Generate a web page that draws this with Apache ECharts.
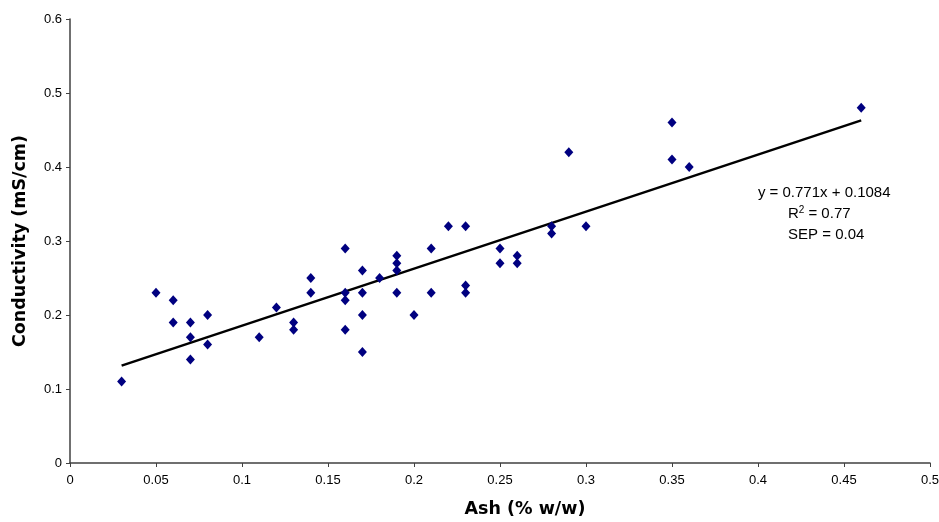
<!DOCTYPE html>
<html>
<head>
<meta charset="utf-8">
<script src="https://cdn.jsdelivr.net/npm/echarts@6/dist/echarts.min.js"></script>
<style>
html,body{margin:0;padding:0;background:#fff;}
#chart{width:939px;height:522px;}
</style>
</head>
<body>
<div id="chart"></div>
<script>
// Ash (% w/w) values
var ashValues = [
  0.03, 0.05, 0.06, 0.06, 0.07, 0.07, 0.07, 0.08, 0.08, 0.11,
  0.12, 0.13, 0.13, 0.14, 0.14, 0.16, 0.16, 0.16, 0.16, 0.17,
  0.17, 0.17, 0.17, 0.18, 0.19, 0.19, 0.19, 0.19, 0.20, 0.21,
  0.21, 0.22, 0.23, 0.23, 0.23, 0.25, 0.25, 0.26, 0.26, 0.28,
  0.28, 0.29, 0.30, 0.35, 0.35, 0.36, 0.46
];
// Conductivity (mS/cm) values
var conductivityValues = [
  0.11, 0.23, 0.22, 0.19, 0.19, 0.17, 0.14, 0.20, 0.16, 0.17,
  0.21, 0.19, 0.18, 0.25, 0.23, 0.29, 0.23, 0.22, 0.18, 0.26,
  0.23, 0.20, 0.15, 0.25, 0.28, 0.27, 0.26, 0.23, 0.20, 0.29,
  0.23, 0.32, 0.32, 0.24, 0.23, 0.29, 0.27, 0.28, 0.27, 0.32,
  0.31, 0.42, 0.32, 0.46, 0.41, 0.40, 0.48
];
// Regression line
var slope = 0.771;
var intercept = 0.1084;
var fitXRange = [0.03, 0.46];
var annotationLines = ['y = 0.771x + 0.1084', 'R2 = 0.77', 'SEP = 0.04'];

var points = ashValues.map(function (x, i) { return [x, conductivityValues[i]]; });
var fitLine = fitXRange.map(function (x) { return [x, slope * x + intercept]; });

var chart = echarts.init(document.getElementById('chart'));
var font = '"Liberation Sans", Arial, sans-serif';
var titleFont = '"DejaVu Sans", sans-serif';
var axisColor = '#404040';
chart.setOption({
  animation: false,
  backgroundColor: '#fff',
  grid: { left: 70, right: 9, top: 19, bottom: 59, containLabel: false, outerBoundsMode: 'none' },
  xAxis: {
    type: 'value', min: 0, max: 0.5, interval: 0.05,
    name: 'Ash (% w/w)', nameLocation: 'middle', nameGap: 37,
    nameTextStyle: { fontFamily: titleFont, fontWeight: 'bold', fontSize: 17.5, color: '#000', padding: [0, 0, 0, 50] },
    axisLine: { show: true, lineStyle: { color: axisColor, width: 1.5 } },
    axisTick: { show: true, length: 4, lineStyle: { color: axisColor } },
    axisLabel: { fontFamily: font, fontSize: 13, color: '#000', margin: 11,
      formatter: function (v) { return String(+v.toFixed(2)); } },
    splitLine: { show: false }
  },
  yAxis: {
    type: 'value', min: 0, max: 0.6, interval: 0.1,
    name: 'Conductivity (mS/cm)', nameLocation: 'middle', nameGap: 41, nameRotate: 90,
    nameTextStyle: { fontFamily: titleFont, fontWeight: 'bold', fontSize: 17.5, color: '#000' },
    axisLine: { show: true, lineStyle: { color: axisColor, width: 1.5 } },
    axisTick: { show: true, length: 4, lineStyle: { color: axisColor } },
    axisLabel: { fontFamily: font, fontSize: 13, color: '#000', margin: 8,
      formatter: function (v) { return String(+v.toFixed(1)); } },
    splitLine: { show: false }
  },
  series: [
    {
      type: 'line', data: fitLine, symbol: 'none', silent: true,
      lineStyle: { color: '#000', width: 2.5 }, z: 2
    },
    {
      type: 'scatter', data: points, symbol: 'diamond', symbolSize: [9, 10],
      itemStyle: { color: '#000080', opacity: 1 }, z: 3
    }
  ]
});

// Annotation anchored via the chart's own coordinate conversion
var anchor = chart.convertToPixel({ gridIndex: 0 }, [0.4385, 0.337]);
var lineGap = 21;
var richStyle = {
  a: { fontFamily: font, fontSize: 15, color: '#000' },
  s: { fontFamily: font, fontSize: 10, color: '#000', verticalAlign: 'top', padding: [0, 0, 7, 0] }
};
chart.setOption({
  graphic: [
    { type: 'text', x: anchor[0], y: anchor[1] - lineGap,
      style: { text: annotationLines[0], font: '15px ' + font, fill: '#000', align: 'center', verticalAlign: 'middle' } },
    { type: 'text', x: anchor[0] - 5, y: anchor[1],
      style: { text: '{a|R}{s|2}{a| = 0.77}', rich: richStyle, fill: '#000', align: 'center', verticalAlign: 'middle' } },
    { type: 'text', x: anchor[0] + 2, y: anchor[1] + lineGap,
      style: { text: annotationLines[2], font: '15px ' + font, fill: '#000', align: 'center', verticalAlign: 'middle' } }
  ]
});
</script>
</body>
</html>
